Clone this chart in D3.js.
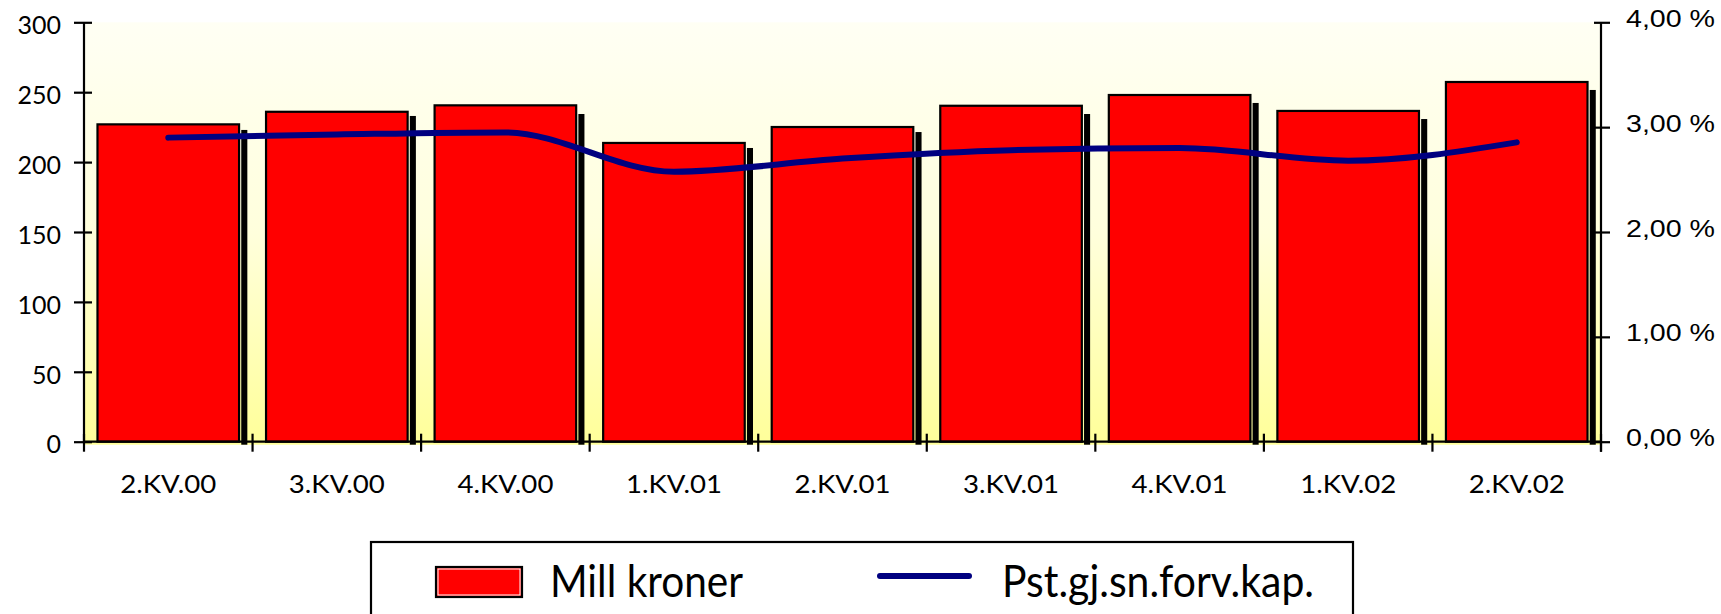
<!DOCTYPE html>
<html>
<head>
<meta charset="utf-8">
<script src="https://cdn.jsdelivr.net/npm/d3@7"></script>
<style>
  html, body { margin: 0; padding: 0; background: #ffffff; }
  svg { display: block; }
</style>
</head>
<body>
<script>
// ---- data ----
const categories = ["2.KV.00", "3.KV.00", "4.KV.00", "1.KV.01", "2.KV.01", "3.KV.01", "4.KV.01", "1.KV.02", "2.KV.02"];
const millKroner = [227, 236, 240.6, 213.7, 225.1, 240.3, 248, 236.6, 257.3];
const shadowValues = [223, 233, 234.4, 210.1, 221.5, 234.4, 242.3, 230.8, 251.6];
const pctValues = [2.90, 2.93, 2.95, 2.575, 2.70, 2.78, 2.80, 2.68, 2.855];
const leftTicks = [0, 50, 100, 150, 200, 250, 300];
const rightTicks = [0, 1, 2, 3, 4];
const legendLabels = ["Mill kroner", "Pst.gj.sn.forv.kap."];

// ---- layout ----
const W = 1721, H = 614;
const plot = { left: 84, right: 1601, top: 22.3, bottom: 441.7 };

const svg = d3.select("body").append("svg").attr("width", W).attr("height", H);

const defs = svg.append("defs");
const grad = defs.append("linearGradient").attr("id", "bg").attr("x1", 0).attr("y1", 0).attr("x2", 0).attr("y2", 1);
grad.append("stop").attr("offset", "0%").attr("stop-color", "#fffff4");
grad.append("stop").attr("offset", "50%").attr("stop-color", "#ffffdc");
grad.append("stop").attr("offset", "100%").attr("stop-color", "#ffff99");

const x = d3.scaleBand().domain(categories).range([plot.left, plot.right]).padding(0);
const yL = d3.scaleLinear().domain([0, 300]).range([plot.bottom, plot.top]);
const yR = d3.scaleLinear().domain([0, 4]).range([plot.bottom, plot.top]);
const bw = x.bandwidth();

// plot background
svg.append("rect")
  .attr("x", plot.left).attr("y", plot.top)
  .attr("width", plot.right - plot.left).attr("height", plot.bottom - plot.top + 3)
  .attr("fill", "url(#bg)");

// shadow strips
svg.append("g").selectAll("rect").data(categories).join("rect")
  .attr("x", d => x(d) + bw * 0.933)
  .attr("y", (d, i) => yL(shadowValues[i]))
  .attr("width", bw * 0.036)
  .attr("height", (d, i) => yL(0) - yL(shadowValues[i]) + 3)
  .attr("fill", "#000000");

// red bars
svg.append("g").selectAll("rect").data(categories).join("rect")
  .attr("x", d => x(d) + bw * 0.08)
  .attr("y", (d, i) => yL(millKroner[i]))
  .attr("width", bw * 0.84)
  .attr("height", (d, i) => yL(0) - yL(millKroner[i]))
  .attr("fill", "#ff0000")
  .attr("stroke", "#000000")
  .attr("stroke-width", 2.2);

// left axis
const gL = svg.append("g").attr("transform", `translate(${plot.left},0)`)
  .call(d3.axisLeft(yL).tickValues(leftTicks).tickSize(10).tickPadding(13).tickFormat(d3.format("d")));
gL.select(".domain").attr("stroke", "#000").attr("stroke-width", 2.2).attr("d", `M0,${plot.top}V${plot.bottom}`);
gL.selectAll(".tick line").attr("x1", -10).attr("x2", 8).attr("stroke", "#000").attr("stroke-width", 2.2);
gL.selectAll(".tick text").attr("fill", "#000").style("font-family", "Lato, 'Open Sans', sans-serif").style("font-size", "25px").attr("dy", "0.45em");

// right axis
const gR = svg.append("g").attr("transform", `translate(${plot.right},0)`)
  .call(d3.axisRight(yR).tickValues(rightTicks).tickSize(9).tickPadding(16).tickFormat(d => d3.format(".2f")(d).replace(".", ",") + " %"));
gR.select(".domain").attr("stroke", "#000").attr("stroke-width", 2.2).attr("d", `M0,${plot.top}V${plot.bottom + 10}`);
gR.selectAll(".tick line").attr("x1", -7).attr("x2", 9).attr("stroke", "#000").attr("stroke-width", 2.2);
gR.selectAll(".tick text").attr("fill", "#000")
  .style("font-family", "'Liberation Sans', Arial, sans-serif").style("font-size", "23px")
  .attr("textLength", 89).attr("lengthAdjust", "spacingAndGlyphs").attr("dy", "0.18em");

// x axis
const gX = svg.append("g").attr("transform", `translate(0,${plot.bottom})`)
  .call(d3.axisBottom(x).tickSize(0).tickPadding(44));
gX.select(".domain").remove();
gX.append("line").attr("x1", plot.left).attr("x2", plot.right).attr("y1", 0).attr("y2", 0)
  .attr("stroke", "#000").attr("stroke-width", 2.2);
gX.selectAll(".tick text").attr("fill", "#000")
  .style("font-family", "Lato, 'Open Sans', sans-serif").style("font-size", "25px")
  .attr("textLength", 96).attr("lengthAdjust", "spacingAndGlyphs").attr("dy", "0.3em");
const boundaries = categories.map(c => x(c)).concat([plot.right]);
gX.selectAll("line.bt").data(boundaries).join("line").attr("class", "bt")
  .attr("x1", d => d).attr("x2", d => d).attr("y1", -8).attr("y2", 10)
  .attr("stroke", "#000").attr("stroke-width", 2.2);

// line series
const line = d3.line()
  .x((d, i) => x(categories[i]) + bw / 2)
  .y(d => yR(d))
  .curve(d3.curveMonotoneX);
svg.append("path").datum(pctValues)
  .attr("d", line)
  .attr("fill", "none")
  .attr("stroke", "#000080")
  .attr("stroke-width", 6)
  .attr("stroke-linecap", "round")
  .attr("stroke-linejoin", "round");

// legend
const lg = svg.append("g");
lg.append("rect").attr("x", 371).attr("y", 542).attr("width", 982).attr("height", 90)
  .attr("fill", "#fff").attr("stroke", "#000").attr("stroke-width", 2.2);
lg.append("rect").attr("x", 436).attr("y", 567).attr("width", 86).attr("height", 30)
  .attr("fill", "#ff0000").attr("stroke", "#000").attr("stroke-width", 2.2);
lg.append("rect").attr("x", 438).attr("y", 569).attr("width", 82).attr("height", 26)
  .attr("fill", "none").attr("stroke", "#fff").attr("stroke-width", 1);
lg.append("text").attr("x", 550).attr("y", 597).text(legendLabels[0])
  .style("font-family", "Lato, 'Open Sans', sans-serif").style("font-size", "44px")
  .attr("textLength", 193).attr("lengthAdjust", "spacingAndGlyphs");
lg.append("line").attr("x1", 880).attr("x2", 969).attr("y1", 576).attr("y2", 576)
  .attr("stroke", "#000080").attr("stroke-width", 6).attr("stroke-linecap", "round");
lg.append("text").attr("x", 1002).attr("y", 597).text(legendLabels[1])
  .style("font-family", "Lato, 'Open Sans', sans-serif").style("font-size", "44px")
  .attr("textLength", 312).attr("lengthAdjust", "spacingAndGlyphs");
</script>
</body>
</html>
